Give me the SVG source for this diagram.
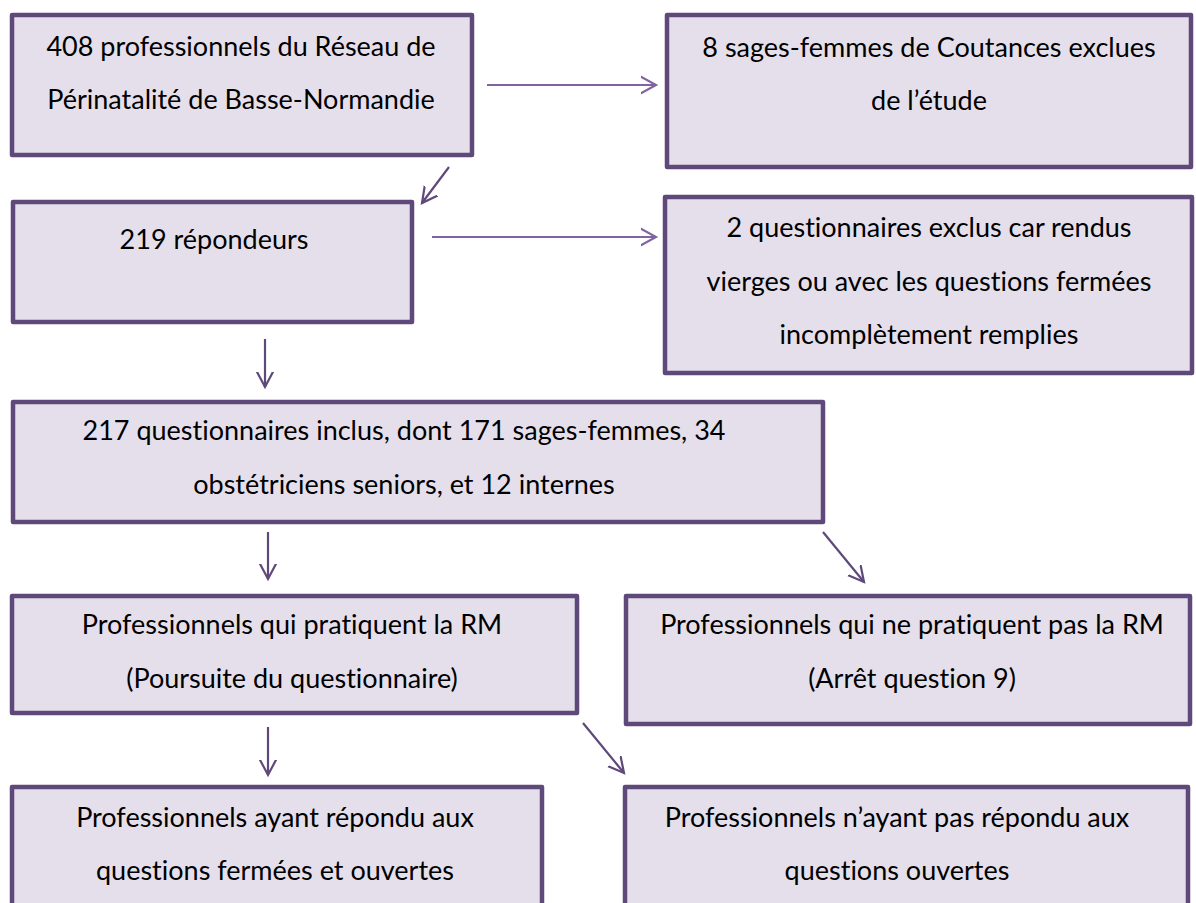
<svg xmlns="http://www.w3.org/2000/svg" width="1196" height="903" viewBox="0 0 1196 903">
<style>
.box{fill:#e5dfec;stroke:#5f497a;stroke-width:4.5;stroke-linejoin:round}
.t{font-family:Lato,"Liberation Sans",sans-serif;font-size:27px;fill:#000;text-anchor:middle;font-variant-ligatures:none}
.c{stroke:#5f497a;stroke-width:2.2;fill:none}
.h{stroke:#8064a2;stroke-width:2.2;fill:none}
</style>
<defs>
<marker id="ah" markerUnits="userSpaceOnUse" markerWidth="30" markerHeight="30" refX="15" refY="15" orient="auto" viewBox="0 0 30 30">
<path d="M-3,5.5 L15,15 L-3,24.5" fill="none" stroke="#5f497a" stroke-width="2.2" stroke-linecap="round"/>
</marker>
<marker id="ahl" markerUnits="userSpaceOnUse" markerWidth="30" markerHeight="30" refX="15" refY="15" orient="auto" viewBox="0 0 30 30">
<path d="M-3,5 L15,15 L-3,25" fill="none" stroke="#8064a2" stroke-width="2.2" stroke-linecap="round"/>
</marker>
</defs>
<rect width="1196" height="903" fill="#fff"/>
<g id="n1"><rect class="box" x="12" y="15" width="460" height="140"/>
<text class="t" x="241" y="56">408 professionnels du Réseau de</text>
<text class="t" x="241" y="109">Périnatalité de Basse-Normandie</text></g>
<g id="n2"><rect class="box" x="667" y="15" width="524" height="152"/>
<text class="t" x="929" y="57">8 sages-femmes de Coutances exclues</text>
<text class="t" x="929" y="110">de l’étude</text></g>
<g id="n3"><rect class="box" x="13" y="202" width="399" height="120"/>
<text class="t" x="214" y="249">219 répondeurs</text></g>
<g id="n4"><rect class="box" x="665" y="197" width="527" height="176"/>
<text class="t" x="929" y="237">2 questionnaires exclus car rendus</text>
<text class="t" x="929" y="291">vierges ou avec les questions fermées</text>
<text class="t" x="929" y="344">incomplètement remplies</text></g>
<g id="n5"><rect class="box" x="13" y="402" width="810" height="120"/>
<text class="t" x="404" y="440">217 questionnaires inclus, dont 171 sages-femmes, 34</text>
<text class="t" x="404" y="494">obstétriciens seniors, et 12 internes</text></g>
<g id="n6"><rect class="box" x="12" y="596" width="565" height="117"/>
<text class="t" x="292" y="634">Professionnels qui pratiquent la RM</text>
<text class="t" x="292" y="688">(Poursuite du questionnaire)</text></g>
<g id="n7"><rect class="box" x="626" y="596" width="564" height="128"/>
<text class="t" x="912" y="634">Professionnels qui ne pratiquent pas la RM</text>
<text class="t" x="912" y="688">(Arrêt question 9)</text></g>
<g id="n8"><rect class="box" x="12" y="787" width="530" height="140"/>
<text class="t" x="275" y="827">Professionnels ayant répondu aux</text>
<text class="t" x="275" y="880">questions fermées et ouvertes</text></g>
<g id="n9"><rect class="box" x="625" y="787" width="563" height="140"/>
<text class="t" x="897" y="827">Professionnels n’ayant pas répondu aux</text>
<text class="t" x="897" y="880">questions ouvertes</text></g>
<g id="connectors">
<line class="h" x1="487" y1="85" x2="656" y2="85" marker-end="url(#ahl)"/>
<line class="c" x1="449" y1="167" x2="422" y2="203" marker-end="url(#ah)"/>
<line class="h" x1="432" y1="237" x2="656" y2="237" marker-end="url(#ahl)"/>
<line class="c" x1="265" y1="339" x2="265" y2="387" marker-end="url(#ah)"/>
<line class="c" x1="268" y1="532" x2="268" y2="579" marker-end="url(#ah)"/>
<line class="c" x1="823" y1="532" x2="864" y2="582" marker-end="url(#ah)"/>
<line class="c" x1="268" y1="727" x2="268" y2="775" marker-end="url(#ah)"/>
<line class="c" x1="583" y1="723" x2="624" y2="773" marker-end="url(#ah)"/>
</g>
</svg>
